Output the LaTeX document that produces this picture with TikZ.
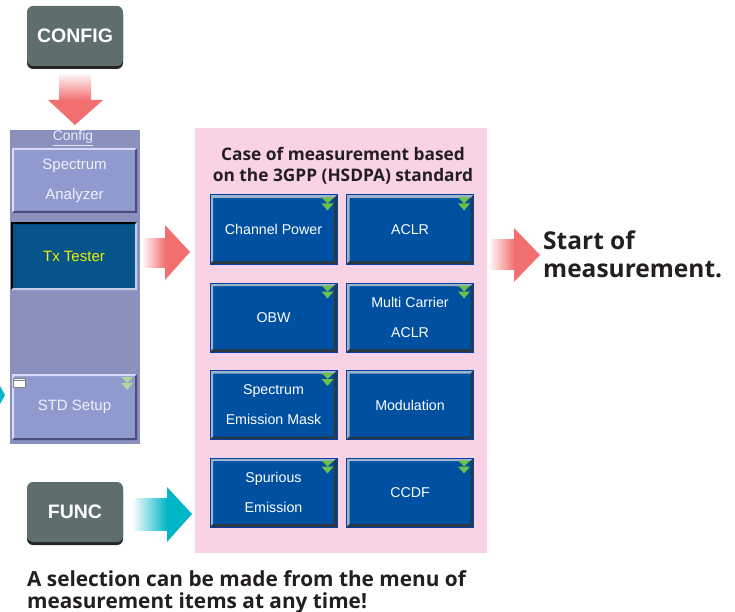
\documentclass[tikz,border=0pt]{standalone}
\usepackage{fontspec}
\setmainfont{Liberation Sans}
\newfontfamily\headfont{Open Sans}
\usetikzlibrary{shadows}
\definecolor{hwgray}{HTML}{5E6E6E}
\definecolor{panelbg}{HTML}{8A91BF}
\definecolor{pbtn}{HTML}{8F9BCE}
\definecolor{txfill}{HTML}{07548A}
\definecolor{txtext}{HTML}{F0F000}
\definecolor{bluebtn}{HTML}{0050A2}
\definecolor{blueedge}{HTML}{0040A8}
\definecolor{bluehl}{HTML}{9EB4C6}
\definecolor{blueshd}{HTML}{2C3844}
\definecolor{pinkbg}{HTML}{F9D3E5}
\definecolor{chevgreen}{HTML}{6CC04A}
\definecolor{chevpale}{HTML}{B0D89A}
\definecolor{arrowred}{HTML}{F26F6F}
\definecolor{arrowcyan}{HTML}{00B5C6}
\definecolor{darktext}{HTML}{231F20}
\newcommand\chev[2]{%
  \fill[#2] ([xshift=-16pt,yshift=-3pt]#1.north east) -- ++(12pt,0pt) -- ++(-6pt,-6pt) -- cycle;
  \fill[#2] ([xshift=-16pt,yshift=-9pt]#1.north east) -- ++(12pt,0pt) -- ++(-6pt,-7pt) -- cycle;}
\tikzset{
  bevel/.style n args={3}{path picture={
    \fill[#1] (path picture bounding box.north west) -- (path picture bounding box.north east)
      -- ([shift={(-#3,-#3)}]path picture bounding box.north east)
      -- ([shift={(#3,-#3)}]path picture bounding box.north west)
      -- ([shift={(#3,#3)}]path picture bounding box.south west)
      -- (path picture bounding box.south west) -- cycle;
    \fill[#2] (path picture bounding box.south east) -- (path picture bounding box.south west)
      -- ([shift={(#3,#3)}]path picture bounding box.south west)
      -- ([shift={(-#3,#3)}]path picture bounding box.south east)
      -- ([shift={(-#3,-#3)}]path picture bounding box.north east)
      -- (path picture bounding box.north east) -- cycle;}},
  hwbtn/.style={rounded corners=6pt, fill=hwgray, text=white, inner sep=0pt,
    font=\bfseries\fontsize{19.5}{19.5}\selectfont, minimum width=96pt, minimum height=60pt,
    drop shadow={shadow xshift=0pt, shadow yshift=-3pt, opacity=1, fill=black!85}},
  panelbox/.style={fill=panelbg, inner sep=0pt, minimum width=130pt, minimum height=314pt},
  pbutton/.style={fill=pbtn, inner sep=0pt, text=white!94!blue, align=center,
    font=\fontsize{15}{30}\selectfont, bevel={white!85!blue}{black!55!blue!40!gray}{2pt}},
  txbutton/.style={fill=txfill, inner sep=0pt, text=txtext, align=center,
    font=\fontsize{15}{30}\selectfont, bevel={black}{pbtn!50!white}{2pt}},
  mbutton/.style={draw=blueedge, line width=1pt, fill=bluebtn, inner sep=0pt, text=white,
    align=center, font=\fontsize{14.2}{30}\selectfont, minimum width=127pt, minimum height=69pt,
    bevel={bluehl}{blueshd}{3pt}},
  pinkbox/.style={fill=pinkbg, inner sep=0pt, minimum width=292pt, minimum height=425pt},
  headtext/.style={text=darktext, font=\headfont\bfseries\fontsize{17.3}{21}\selectfont, align=center, inner sep=0pt},
  bigtext/.style={text=darktext, font=\headfont\bfseries\fontsize{24.5}{28}\selectfont, align=left, inner sep=0pt},
  notetext/.style={text=darktext, font=\headfont\bfseries\fontsize{20.8}{22}\selectfont, align=left, inner sep=0pt},
}
\begin{document}
\begin{tikzpicture}[x=1pt,y=-1pt]
\useasboundingbox (0,0) rectangle (735,612);
% hardware buttons
\node[hwbtn] (config) at (75,36) {CONFIG};
\node[hwbtn] (func) at (75,512) {FUNC};
% left panel
\node[panelbox] (panel) at (75,287) {};
\node[text=white!92!blue, font=\fontsize{14}{14}\selectfont, inner sep=0pt] (cfglbl) at (73,138) {\underline{Config}};
\node[pbutton, minimum width=125pt, minimum height=65pt] (spec) at (74.5,180.5) {Spectrum\\Analyzer};
\node[txbutton, minimum width=126pt, minimum height=68pt] (tx) at (74,256) {Tx Tester};
\node[pbutton, minimum width=125pt, minimum height=66pt] (std) at (74.5,407) {STD Setup};
\fill[white, draw=gray, line width=0.5pt] (13.5,378.5) rectangle (25.5,387.5);
\draw[gray, line width=0.5pt] (13.5,380.5) -- (25.5,380.5);
\chev{std}{chevpale}
% pink area
\node[pinkbox] (case) at (341,340.5) {};
\node[headtext] (title) at (343,166) {Case of measurement based\\on the 3GPP (HSDPA) standard};
\node[mbutton] (chp) at (273.5,229.5) {Channel Power};
\node[mbutton] (aclr) at (410,229.5) {ACLR};
\node[mbutton] (obw) at (273.5,317.5) {OBW};
\node[mbutton] (mca) at (410,317.5) {Multi Carrier\\ACLR};
\node[mbutton] (sem) at (273.5,405) {Spectrum\\Emission Mask};
\node[mbutton] (mod) at (410,405) {Modulation};
\node[mbutton] (spur) at (273.5,492.5) {Spurious\\Emission};
\node[mbutton] (ccdf) at (410,492.5) {CCDF};
\foreach \b in {chp,aclr,obw,mca,sem,spur,ccdf}{\chev{\b}{chevgreen}}
% texts
\node[bigtext, anchor=west] (start) at (543,254) {Start of\\measurement.};
\node[notetext, anchor=north west] (note) at (27,570) {A selection can be made from the menu of\\measurement items at any time!};
% block arrows
\coordinate (tipdown) at (75,125);
\shade[top color=arrowred!10, bottom color=arrowred] (59,75) rectangle (91,100.5);
\fill[arrowred] (48,100) -- (103,100) -- (tipdown) -- cycle;
\coordinate (tipmid) at (190,252);
\shade[left color=arrowred!8, right color=arrowred] (143,238) rectangle (165.5,267);
\fill[arrowred] (165,225) -- (tipmid) -- (165,280) -- cycle;
\coordinate (tipright) at (540,255);
\shade[left color=arrowred!8, right color=arrowred] (490,239) rectangle (514.5,269);
\fill[arrowred] (514,228) -- (tipright) -- (514,282) -- cycle;
\coordinate (tipfunc) at (192,514);
\shade[left color=white, right color=arrowcyan] (132,498) rectangle (167.5,530);
\fill[arrowcyan] (167,487) -- (tipfunc) -- (167,542) -- cycle;
\coordinate (tipstd) at (5,395);
\fill[arrowcyan] (0,386) -- (tipstd) -- (0,404) -- cycle;
\end{tikzpicture}
\end{document}
